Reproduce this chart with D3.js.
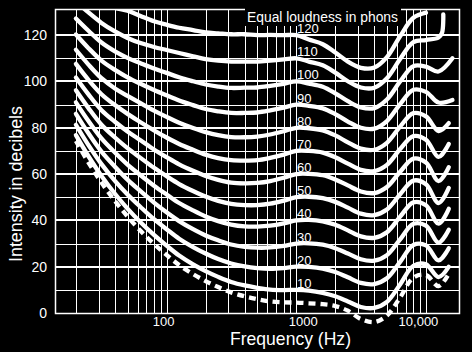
<!DOCTYPE html>
<html><head><meta charset="utf-8">
<script src="https://cdn.jsdelivr.net/npm/d3@7"></script>
<style>html,body{margin:0;padding:0;background:#000;} svg{display:block;}</style>
</head><body><svg id="c" width="472" height="352"></svg>
<script>
// ---- data ----
const freqs = [20, 25, 31.5, 40, 50, 63, 80, 100, 125, 160, 200, 250, 315, 400, 500, 630, 800, 1000, 1250, 1600, 2000, 2500, 3150, 4000, 5000, 6300, 8000, 10000, 12500, 13300, 13600, 15000, 16000];
const threshold = [74.3, 65.0, 56.3, 48.4, 41.7, 35.5, 29.8, 25.1, 20.7, 16.8, 13.8, 11.2, 8.9, 7.2, 6.0, 5.0, 4.6, 4.5, 4.2, 3.8, 3.0, 1.0, -2.6, -3.9, -1.1, 6.6, 15.3, 16.4, 11.6, null, null, 17, null];
const phon10 = [76.8, 67.7, 59.2, 51.5, 45.1, 39.2, 33.7, 29.1, 24.8, 21.0, 18.1, 15.6, 13.4, 11.9, 10.9, 10.1, 9.9, 10, 9.7, 8.7, 7.2, 5.0, 2.6, 2.2, 4.8, 12.2, 20.4, 21.0, 15.5, null, null, 20, null];
const phon20 = [81.3, 72.5, 64.3, 57.1, 51.2, 45.8, 40.5, 36.2, 32.1, 28.5, 25.7, 23.3, 21.4, 20.1, 19.4, 19.1, 19.4, 20, 19.9, 19.2, 17.7, 15.4, 13.0, 12.5, 15.0, 22.0, 29.4, 29.2, 22.7, null, null, 28, null];
const phon30 = [86.0, 77.6, 69.7, 63.2, 57.6, 52.6, 47.7, 43.5, 39.7, 36.2, 33.5, 31.4, 29.6, 28.6, 28.2, 28.3, 29.0, 30, 30.1, 29.5, 28.0, 25.7, 23.2, 22.6, 25.0, 31.7, 38.5, 37.7, 30.4, null, null, 36, null];
const phon40 = [91.0, 82.9, 75.4, 69.3, 64.1, 59.5, 55.0, 51.2, 47.5, 44.3, 41.7, 39.7, 38.2, 37.4, 37.3, 37.7, 38.7, 40, 40.2, 39.6, 38.1, 35.7, 33.1, 32.5, 34.9, 41.5, 47.8, 46.5, 38.6, null, null, 45, null];
const phon50 = [96.2, 88.5, 81.3, 75.8, 71.2, 67.0, 62.7, 59.1, 55.7, 52.7, 50.3, 48.4, 47.1, 46.6, 46.6, 47.2, 48.5, 50, 50.2, 49.6, 48.0, 45.5, 42.9, 42.3, 44.7, 51.2, 57.2, 55.6, 47.5, null, null, 54, null];
const phon60 = [101.7, 94.4, 87.6, 82.6, 78.4, 74.6, 70.6, 67.3, 64.2, 61.4, 59.2, 57.5, 56.3, 56.0, 56.2, 57.0, 58.4, 60, 60.1, 59.5, 57.7, 55.1, 52.5, 51.8, 54.4, 60.9, 66.7, 65.0, 57.0, null, null, 63, null];
const phon70 = [107.6, 100.7, 94.5, 89.8, 86.0, 82.4, 78.9, 75.8, 73.0, 70.5, 68.4, 66.9, 66.0, 65.8, 66.0, 67.0, 68.4, 70, 70.0, 69.3, 67.3, 64.5, 61.8, 61.3, 64.0, 70.7, 76.4, 74.8, 67.4, null, null, 73, null];
const phon80 = [113.7, 107.3, 101.4, 97.0, 93.8, 90.6, 87.4, 84.7, 82.2, 79.9, 78.1, 76.8, 76.0, 75.9, 76.2, 77.1, 78.5, 80, 79.8, 78.9, 76.7, 73.7, 71.0, 70.5, 73.5, 80.4, 86.3, 84.9, 78.6, null, null, 82, null];
const phon90 = [120.3, 114.4, 109.0, 105.0, 101.8, 99.0, 96.3, 94.0, 91.8, 89.8, 88.1, 87.1, 86.4, 86.4, 86.6, 87.5, 88.7, 90, 89.5, 88.4, 85.9, 82.7, 80.0, 79.6, 82.9, 90.1, 96.4, 95.5, 90.9, null, null, null, 92];
const phon100 = [127.2, 121.9, 116.8, 113.0, 110.2, 107.9, 105.6, 103.7, 101.8, 100.1, 98.7, 97.8, 97.2, 97.3, 97.4, 98.1, 99.0, 100, 99.1, 97.7, 94.9, 91.5, 88.8, 88.5, 92.2, 99.9, 106.6, 106.4, 104.3, null, null, null, 110];
const phon110 = [134.6, 129.8, 125.3, 121.6, 118.8, 116.6, 114.9, 113.6, 112.3, 110.9, 109.7, 109.0, 108.6, 108.6, 108.6, 109.0, 109.5, 110, 108.6, 107.0, 103.8, 100.1, 97.4, 97.3, 101.4, 109.6, 117.0, 117.9, 119.0, 121, 129, null, null];
const phon120 = [142.5, 138.3, 134.5, 131.8, 130.6, 128.3, 126.0, 124.5, 123.2, 122.2, 121.2, 120.8, 120.4, 120.4, 120.0, 120.1, 120.0, 120, 118.1, 116.1, 112.5, 108.6, 105.9, 106.0, 110.5, 119.4, 127.5, 129.7, null, null, null, null, null];
const phonLevels = [10, 20, 30, 40, 50, 60, 70, 80, 90, 100, 110, 120];
const phonSeries = [phon10, phon20, phon30, phon40, phon50, phon60, phon70, phon80, phon90, phon100, phon110, phon120];
const yTicks = [0, 20, 40, 60, 80, 100, 120];
const xTicks = [100, 1000, 10000];
const xTickLabels = ["100", "1000", "10,000"];
const titleText = "Equal loudness in phons";
const xTitle = "Frequency (Hz)";
const yTitle = "Intensity in decibels";

// ---- layout ----
const L = 55, R = 460, T = 9, B = 313;
const FONT = "Liberation Sans, Arial, sans-serif";
const svg = d3.select("#c");
svg.append("rect").attr("width", 472).attr("height", 352).attr("fill", "#000");

const x = d3.scaleLog().domain([13.8, 18300]).range([L, R]);
const y = d3.scaleLinear().domain([0, 131.3]).range([B, T]);

// grid
const grid = svg.append("g").attr("stroke", "#fff").attr("shape-rendering", "crispEdges");
const vLines = [];
[10, 100, 1000].forEach(dec => { for (let k = 1; k <= 9; k++) vLines.push(dec * k); });
vLines.push(10000);
vLines.filter(v => x(v) > L + 1 && x(v) < R - 1).forEach(v => {
  grid.append("line").attr("x1", Math.round(x(v)) + 0.5).attr("x2", Math.round(x(v)) + 0.5)
    .attr("y1", T).attr("y2", B).attr("stroke-width", 1);
});
d3.range(10, 130, 10).forEach(v => {
  grid.append("line").attr("x1", L).attr("x2", R)
    .attr("y1", Math.round(y(v))).attr("y2", Math.round(y(v)))
    .attr("stroke-width", v % 20 === 0 ? 2 : 1);
});
svg.append("rect").attr("x", L + 0.5).attr("y", T + 0.5).attr("width", R - L - 1).attr("height", B - T)
  .attr("fill", "none").attr("stroke", "#fff").attr("stroke-width", 1.5);

// title with black box
svg.append("rect").attr("x", 245).attr("y", 0).attr("width", 156).attr("height", 26).attr("fill", "#000");
svg.append("text").attr("x", 247).attr("y", 22).attr("fill", "#fff")
  .attr("font-family", FONT).attr("font-size", 14)
  .attr("textLength", 151).attr("lengthAdjust", "spacingAndGlyphs").text(titleText);

// curves
svg.append("clipPath").attr("id", "clip").append("rect").attr("x", L).attr("y", T + 1).attr("width", R - L).attr("height", 352);
const line = d3.line().x(d => x(d.f)).y(d => y(d.v)).curve(d3.curveCatmullRom.alpha(0.5));
const cg = svg.append("g").attr("clip-path", "url(#clip)");
phonSeries.forEach(s => {
  const pts = freqs.map((f, i) => ({ f, v: s[i] })).filter(d => d.v != null);
  cg.append("path").attr("d", line(pts)).attr("fill", "none").attr("stroke", "#fff")
    .attr("stroke-width", 4.3).attr("stroke-linecap", "round").attr("stroke-linejoin", "round");
});
const tpts = freqs.map((f, i) => ({ f, v: threshold[i] })).filter(d => d.v != null);
cg.append("path").attr("d", line(tpts)).attr("fill", "none").attr("stroke", "#fff")
  .attr("stroke-width", 4.3).attr("stroke-dasharray", "7,5");

// phon labels
const lab = svg.append("g").attr("font-family", FONT).attr("font-size", 13).attr("fill", "#fff");
phonLevels.forEach(p => {
  lab.append("text").attr("x", 297).attr("y", y(p) - 6.5).attr("dominant-baseline", "central").text(p);
});

// axes
const yAxis = svg.append("g").attr("transform", `translate(${L},0)`)
  .call(d3.axisLeft(y).tickValues(yTicks).tickSize(0).tickPadding(8));
yAxis.select(".domain").remove();
yAxis.selectAll("text").attr("fill", "#fff").attr("font-size", 14).attr("font-family", FONT);

const xOff = [-3.5, 6.5, -8];
const xAxis = svg.append("g").attr("transform", `translate(0,${B})`)
  .call(d3.axisBottom(x).tickValues(xTicks).tickFormat((d, i) => xTickLabels[i]).tickSize(0).tickPadding(4));
xAxis.select(".domain").remove();
xAxis.selectAll("text").attr("fill", "#fff").attr("font-size", 13).attr("font-family", FONT)
  .attr("dx", (d, i) => xOff[i]);

svg.append("text").attr("x", 230).attr("y", 345).attr("fill", "#fff")
  .attr("font-family", FONT).attr("font-size", 19)
  .attr("textLength", 121).attr("lengthAdjust", "spacingAndGlyphs").text(xTitle);
svg.append("text").attr("transform", "translate(22,262) rotate(-90)").attr("fill", "#fff")
  .attr("font-family", FONT).attr("font-size", 19)
  .attr("textLength", 156).attr("lengthAdjust", "spacingAndGlyphs").text(yTitle);
</script></body></html>
